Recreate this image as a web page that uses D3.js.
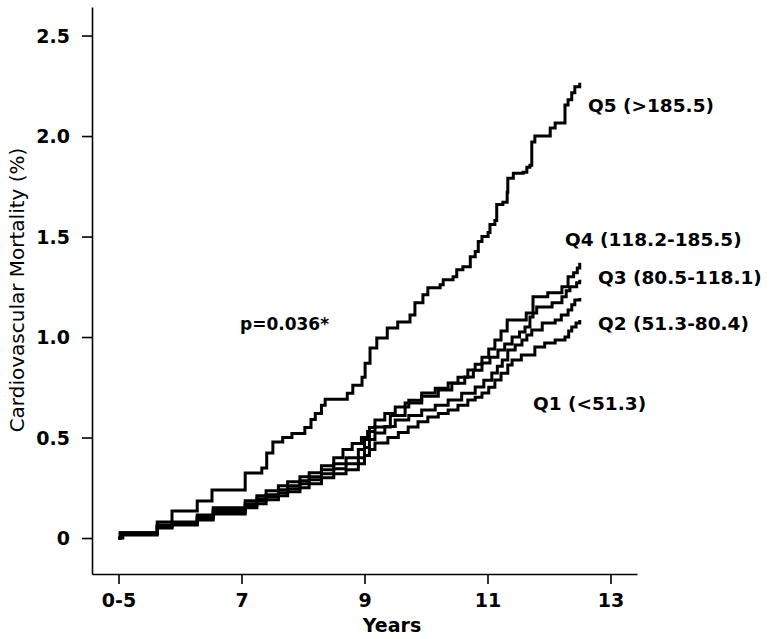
<!DOCTYPE html>
<html><head><meta charset="utf-8">
<script src="https://cdn.jsdelivr.net/npm/d3@7"></script>
<style>body{margin:0;background:#fff}svg{display:block}text{font-family:"DejaVu Sans",sans-serif}</style>
</head><body>
<svg id="c" width="769" height="639"></svg>
<script>
// Tick labels
const xTickValues = [5, 7, 9, 11, 13];
const xTickLabels = ["0-5", "7", "9", "11", "13"];
const yTickValues = [0, 0.5, 1.0, 1.5, 2.0, 2.5];
const yTickLabels = ["0", "0.5", "1.0", "1.5", "2.0", "2.5"];

// Series: [year, cumulative cardiovascular mortality %] step points
const q5 = [[5.0,0],[5.07,0.015],[5.63,0.08],[5.87,0.134],[6.28,0.184],[6.52,0.239],[7.06,0.323],[7.33,0.348],[7.41,0.423],[7.51,0.478],[7.67,0.50],[7.82,0.52],[8.03,0.55],[8.13,0.59],[8.20,0.62],[8.30,0.66],[8.36,0.69],[8.72,0.72],[8.81,0.76],[8.96,0.80],[9.01,0.87],[9.09,0.945],[9.20,0.995],[9.37,1.045],[9.54,1.075],[9.74,1.11],[9.82,1.17],[9.95,1.21],[10.03,1.245],[10.23,1.26],[10.28,1.285],[10.44,1.30],[10.50,1.335],[10.60,1.35],[10.72,1.40],[10.80,1.425],[10.85,1.475],[10.91,1.50],[11.01,1.52],[11.04,1.56],[11.12,1.58],[11.15,1.66],[11.25,1.67],[11.32,1.72],[11.33,1.79],[11.42,1.815],[11.58,1.82],[11.64,1.845],[11.69,1.855],[11.72,1.97],[11.77,2.0],[12.02,2.04],[12.10,2.065],[12.26,2.155],[12.31,2.18],[12.37,2.215],[12.42,2.245],[12.50,2.265]];
const q4 = [[5.0,0],[5.03,0.025],[5.63,0.065],[5.87,0.08],[6.28,0.115],[6.54,0.15],[7.06,0.185],[7.25,0.21],[7.40,0.235],[7.6,0.26],[7.75,0.28],[7.95,0.305],[8.1,0.325],[8.3,0.36],[8.5,0.40],[8.65,0.44],[8.8,0.47],[8.95,0.50],[9.05,0.53],[9.17,0.552],[9.42,0.61],[9.66,0.672],[9.93,0.705],[10.20,0.736],[10.42,0.77],[10.63,0.801],[10.77,0.835],[10.91,0.871],[11.04,0.90],[11.17,0.935],[11.28,0.965],[11.40,1.0],[11.52,1.025],[11.61,1.05],[11.69,1.10],[11.74,1.20],[11.98,1.22],[12.21,1.25],[12.31,1.30],[12.40,1.32],[12.46,1.343],[12.5,1.37]];
const q3 = [[5.0,0],[5.03,0.025],[5.63,0.06],[5.87,0.075],[6.28,0.105],[6.54,0.14],[7.06,0.17],[7.25,0.195],[7.40,0.215],[7.6,0.24],[7.75,0.26],[7.95,0.285],[8.1,0.305],[8.3,0.34],[8.5,0.37],[8.7,0.40],[8.9,0.44],[9.0,0.49],[9.08,0.55],[9.17,0.587],[9.33,0.62],[9.50,0.652],[9.72,0.685],[9.93,0.721],[10.15,0.745],[10.36,0.771],[10.52,0.80],[10.68,0.836],[10.80,0.865],[10.91,0.90],[11.02,0.94],[11.12,0.985],[11.22,1.03],[11.32,1.085],[11.63,1.12],[11.80,1.15],[12.05,1.17],[12.21,1.20],[12.28,1.23],[12.34,1.25],[12.45,1.27],[12.5,1.285]];
const q2 = [[5.0,0],[5.03,0.025],[5.63,0.055],[5.87,0.07],[6.28,0.10],[6.54,0.13],[7.06,0.16],[7.25,0.185],[7.40,0.205],[7.6,0.225],[7.75,0.245],[7.95,0.27],[8.1,0.29],[8.3,0.32],[8.5,0.345],[8.7,0.37],[8.9,0.40],[9.0,0.45],[9.08,0.49],[9.17,0.522],[9.33,0.555],[9.50,0.587],[9.72,0.61],[9.93,0.637],[10.15,0.66],[10.36,0.687],[10.58,0.72],[10.80,0.751],[10.94,0.785],[11.07,0.821],[11.16,0.855],[11.24,0.886],[11.33,0.935],[11.45,0.96],[11.56,0.985],[11.64,1.01],[11.72,1.035],[11.89,1.07],[12.10,1.085],[12.2,1.11],[12.31,1.134],[12.37,1.16],[12.42,1.184],[12.5,1.194]];
const q1 = [[5.0,0],[5.03,0.025],[5.63,0.05],[5.87,0.065],[6.28,0.09],[6.54,0.12],[7.06,0.15],[7.25,0.17],[7.40,0.19],[7.6,0.21],[7.75,0.23],[7.95,0.25],[8.1,0.27],[8.3,0.30],[8.5,0.32],[8.7,0.34],[8.9,0.37],[9.0,0.41],[9.08,0.44],[9.17,0.473],[9.38,0.50],[9.55,0.525],[9.71,0.552],[9.87,0.578],[10.03,0.602],[10.2,0.62],[10.36,0.637],[10.52,0.66],[10.68,0.687],[10.8,0.70],[10.91,0.721],[11.02,0.75],[11.12,0.786],[11.22,0.82],[11.33,0.861],[11.40,0.886],[11.55,0.91],[11.77,0.95],[11.93,0.97],[12.1,0.985],[12.26,1.0],[12.32,1.03],[12.37,1.05],[12.44,1.07],[12.5,1.085]];
const seriesNames = ["Q1 (<51.3)", "Q2 (51.3-80.4)", "Q3 (80.5-118.1)", "Q4 (118.2-185.5)", "Q5 (>185.5)"];
const pText = "p=0.036*";

const svg = d3.select("#c");
const x = d3.scaleLinear().domain([4.569, 13.431]).range([92, 637]);
const y = d3.scaleLinear().domain([-0.179, 2.642]).range([574, 7]);

const xAxis = d3.axisBottom(x).tickValues(xTickValues).tickSize(10).tickSizeOuter(0)
  .tickFormat((d,i) => xTickLabels[i]);
const yAxis = d3.axisLeft(y).tickValues(yTickValues).tickSize(10).tickSizeOuter(0)
  .tickFormat((d,i) => yTickLabels[i]);

const gx = svg.append("g").attr("transform","translate(0,574)").call(xAxis);
const gy = svg.append("g").attr("transform","translate(92,0)").call(yAxis);
[gx, gy].forEach(g => {
  g.select(".domain").attr("stroke","#000").attr("stroke-width",1.6);
  g.selectAll(".tick line").attr("stroke","#000").attr("stroke-width",1.6);
  g.selectAll(".tick text").attr("fill","#000").attr("font-size",19).attr("font-weight","bold")
    .attr("font-family","DejaVu Sans, sans-serif");
});
gx.selectAll(".tick text").attr("dy", null).attr("y", 33);
gy.selectAll(".tick text").attr("x", -22).attr("dy","0.36em");

const line = d3.line().x(d => x(d[0])).y(d => y(d[1])).curve(d3.curveStepAfter);
[q1,q2,q3,q4,q5].forEach(s => {
  svg.append("path").attr("d", line(s)).attr("fill","none").attr("stroke","#000")
    .attr("stroke-width",3).attr("stroke-linejoin","miter");
});

const lab = (t, xx, yy, opt={}) => svg.append("text").attr("x",xx).attr("y",yy).text(t)
  .attr("font-size", opt.size || 18.5).attr("font-weight", opt.weight || "bold").attr("fill","#000")
  .attr("text-anchor", opt.anchor || "start");

lab(seriesNames[4], 588, 112);
lab(seriesNames[3], 565, 246);
lab(seriesNames[2], 598, 284);
lab(seriesNames[1], 598, 330);
lab(seriesNames[0], 533, 410);
lab(pText, 240, 330, {size:17});

lab("Years", 392, 632, {anchor:"middle", size:19});
svg.append("text").attr("transform","translate(24,290) rotate(-90)").attr("text-anchor","middle")
  .attr("font-size",20).attr("fill","#000").text("Cardiovascular Mortality (%)");
</script>
</body></html>
